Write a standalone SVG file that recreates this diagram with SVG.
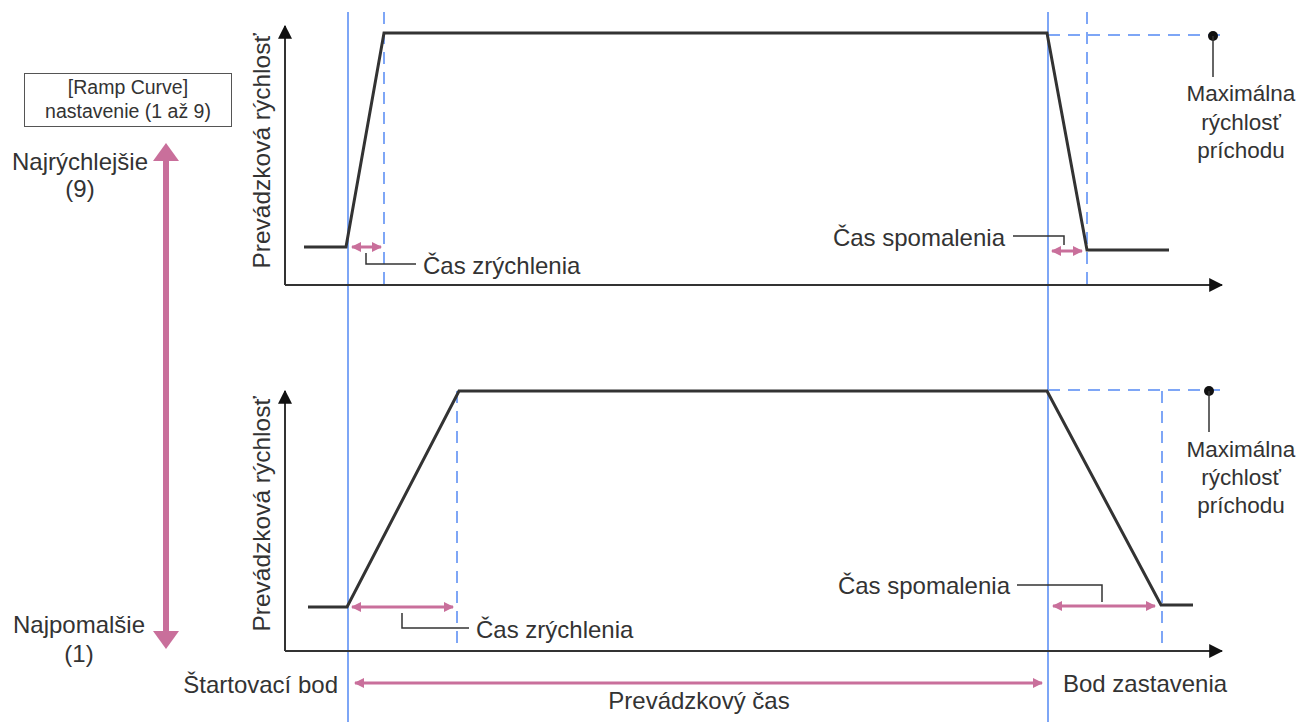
<svg xmlns="http://www.w3.org/2000/svg" width="1314" height="722" viewBox="0 0 1314 722">
  <style>
    text { font-family: "Liberation Sans", Arial, sans-serif; fill: #333; }
    .lbl { font-size: 24px; }
    .max { font-size: 22.5px; }
    .ylbl { font-size: 24.5px; }
    .box { font-size: 19.5px; }
    .axis { stroke: #333; stroke-width: 2; fill: none; }
    .curve { stroke: #333; stroke-width: 3; fill: none; stroke-linejoin: miter; }
    .guide { stroke: #7ea6f6; stroke-width: 2; fill: none; }
    .dash { stroke: #7ea6f6; stroke-width: 2; fill: none; stroke-dasharray: 12 8; }
    .leader { stroke: #333; stroke-width: 1.5; fill: none; }
    .span { stroke: #c96f9b; stroke-width: 3; fill: none; marker-start: url(#pk); marker-end: url(#pk); }
  </style>
  <defs>
    <marker id="axb" viewBox="0 0 12 12" refX="11" refY="6" markerWidth="14" markerHeight="14" markerUnits="userSpaceOnUse" orient="auto">
      <path d="M0,0 L12,6 L0,12 z" fill="#111"/>
    </marker>
    <marker id="pk" viewBox="0 0 10 10" refX="9" refY="5" markerWidth="10" markerHeight="10" markerUnits="userSpaceOnUse" orient="auto-start-reverse">
      <path d="M0,0 L10,5 L0,10 z" fill="#c96f9b"/>
    </marker>
  </defs>

  <!-- ramp setting legend -->
  <g id="legend">
    <rect x="24.5" y="73.5" width="207" height="53" fill="#fff" stroke="#555" stroke-width="1"/>
    <text class="box" x="128" y="94" text-anchor="middle">[Ramp Curve]</text>
    <text class="box" x="128" y="118" text-anchor="middle">nastavenie (1 až 9)</text>
  </g>
  <g id="scale">
    <line x1="166" y1="158" x2="166" y2="634" stroke="#c96f9b" stroke-width="6"/>
    <path d="M153,161 L166,143 L179,161 z" fill="#c96f9b"/>
    <path d="M153,631 L166,649 L179,631 z" fill="#c96f9b"/>
    <text class="lbl" x="80" y="170" text-anchor="middle">Najrýchlejšie</text>
    <text class="lbl" x="80" y="197" text-anchor="middle">(9)</text>
    <text class="lbl" x="79" y="633" text-anchor="middle">Najpomalšie</text>
    <text class="lbl" x="79" y="662" text-anchor="middle">(1)</text>
  </g>

  <!-- reference lines -->
  <g id="guides">
    <line class="guide" x1="348" y1="12" x2="348" y2="722"/>
    <line class="guide" x1="1048" y1="12" x2="1048" y2="722"/>
    <line class="dash" x1="384" y1="12" x2="384" y2="285"/>
    <line class="dash" x1="1087" y1="12" x2="1087" y2="285"/>
    <line class="dash" x1="1048" y1="35" x2="1228" y2="35"/>
    <line class="dash" x1="457" y1="391" x2="457" y2="651"/>
    <line class="dash" x1="1162" y1="391" x2="1162" y2="651"/>
    <line class="dash" x1="1048" y1="390" x2="1228" y2="390"/>
  </g>

  <!-- fast ramp chart -->
  <g id="chart-fast">
    <polyline class="axis" points="285,285 1222,285" marker-end="url(#axb)"/>
    <line class="axis" x1="285" y1="285" x2="285" y2="26" marker-end="url(#axb)"/>
    <text class="ylbl" transform="translate(270,151) rotate(-90)" text-anchor="middle">Prevádzková rýchlosť</text>
    <polyline class="curve" points="304,247 346,247 384,33 1047,33 1087,250 1169,250"/>
    <line class="span" x1="352" y1="247" x2="381" y2="247"/>
    <polyline class="leader" points="366,253 366,264 416,264"/>
    <text class="lbl" x="423" y="274">Čas zrýchlenia</text>
    <line class="span" x1="1052" y1="251" x2="1082" y2="251"/>
    <polyline class="leader" points="1013,236 1064,236 1064,245"/>
    <text class="lbl" x="1005" y="246" text-anchor="end">Čas spomalenia</text>
    <circle cx="1213" cy="36" r="5" fill="#111"/>
    <line class="leader" x1="1213" y1="36" x2="1213" y2="77"/>
    <text class="max" x="1241" y="101" text-anchor="middle">Maximálna</text>
    <text class="max" x="1241" y="130" text-anchor="middle">rýchlosť</text>
    <text class="max" x="1241" y="158" text-anchor="middle">príchodu</text>
  </g>

  <!-- slow ramp chart -->
  <g id="chart-slow">
    <polyline class="axis" points="285,651 1222,651" marker-end="url(#axb)"/>
    <line class="axis" x1="285" y1="651" x2="285" y2="391" marker-end="url(#axb)"/>
    <text class="ylbl" transform="translate(270,514) rotate(-90)" text-anchor="middle">Prevádzková rýchlosť</text>
    <polyline class="curve" points="308,607 347,607 459,391 1047,391 1161,605 1193,605"/>
    <line class="span" x1="352" y1="607" x2="453" y2="607"/>
    <polyline class="leader" points="402,613 402,628 469,628"/>
    <text class="lbl" x="476" y="638">Čas zrýchlenia</text>
    <line class="span" x1="1053" y1="606" x2="1155" y2="606"/>
    <polyline class="leader" points="1017,585 1102,585 1102,602"/>
    <text class="lbl" x="1010" y="594" text-anchor="end">Čas spomalenia</text>
    <circle cx="1209" cy="391" r="5" fill="#111"/>
    <line class="leader" x1="1209" y1="391" x2="1209" y2="432"/>
    <text class="max" x="1241" y="457" text-anchor="middle">Maximálna</text>
    <text class="max" x="1241" y="485" text-anchor="middle">rýchlosť</text>
    <text class="max" x="1241" y="513" text-anchor="middle">príchodu</text>
  </g>

  <!-- operating time span -->
  <g id="operating-time">
    <line class="span" x1="355" y1="683" x2="1042" y2="683" stroke-width="2.5"/>
    <text class="lbl" x="338" y="693" text-anchor="end">Štartovací bod</text>
    <text class="lbl" x="1063" y="692">Bod zastavenia</text>
    <text class="lbl" x="699" y="709" text-anchor="middle">Prevádzkový čas</text>
  </g>
</svg>
